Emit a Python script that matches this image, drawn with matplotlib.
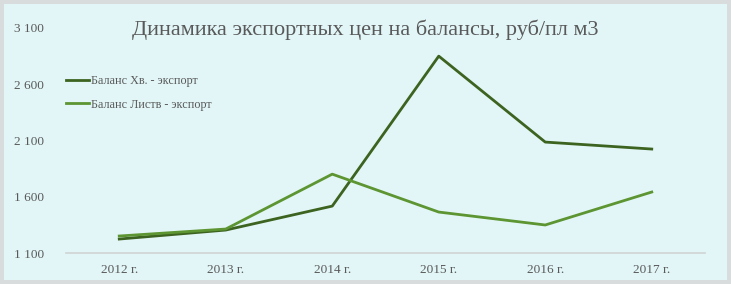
import matplotlib.pyplot as plt
from matplotlib.patches import Rectangle

years = ['2012 г.', '2013 г.', '2014 г.', '2015 г.', '2016 г.', '2017 г.']
hv = [1224, 1304, 1517, 2850, 2086, 2024]
listv = [1251, 1313, 1801, 1464, 1349, 1642]
yticks = [1100, 1600, 2100, 2600, 3100]

plt.rcParams['font.family'] = ['Liberation Serif', 'DejaVu Serif']

fig = plt.figure(figsize=(7.31, 2.84), dpi=100)
fig.patch.set_facecolor('#D9DCDC')
fig.patches.append(Rectangle((4 / 731, 4 / 284), 723 / 731, 276 / 284,
                             transform=fig.transFigure, facecolor='#E2F6F7',
                             edgecolor='none', zorder=-10))

ax = fig.add_axes([66 / 731, 31 / 284, 639 / 731, 225 / 284])
ax.set_facecolor('none')

x = range(len(years))
ax.plot(x, hv, color='#3D6320', lw=2.0, label='Баланс Хв. - экспорт')
ax.plot(x, listv, color='#5C9532', lw=2.0, label='Баланс Листв - экспорт')

ax.set_xlim(-0.5, len(years) - 0.5)
ax.set_ylim(1100, 3100)
ax.set_xticks(list(x))
ax.set_xticklabels(years)
ax.set_yticks(yticks)
ax.set_yticklabels([f'{v:,}'.replace(',', ' ') for v in yticks])
ax.tick_params(length=0, colors='#595959', labelsize=9.5)
ax.tick_params(axis='y', pad=16)
ax.tick_params(axis='x', pad=8)

for s in ['top', 'right', 'left']:
    ax.spines[s].set_visible(False)
ax.spines['bottom'].set_color('#D0D4D4')
ax.spines['bottom'].set_linewidth(1.2)

fig.text(365 / 731, 254 / 284, 'Динамика экспортных цен на балансы, руб/пл м3',
         ha='center', va='center', fontsize=16, color='#595959')

leg = ax.legend(loc='upper left', bbox_to_anchor=(0.0, 0.79), frameon=False,
                fontsize=8.7, handlelength=1.9, handletextpad=0.15,
                labelspacing=0.95, borderaxespad=0, borderpad=0)
for t in leg.get_texts():
    t.set_color('#595959')

fig.savefig('out.png', dpi=100, facecolor=fig.get_facecolor())
